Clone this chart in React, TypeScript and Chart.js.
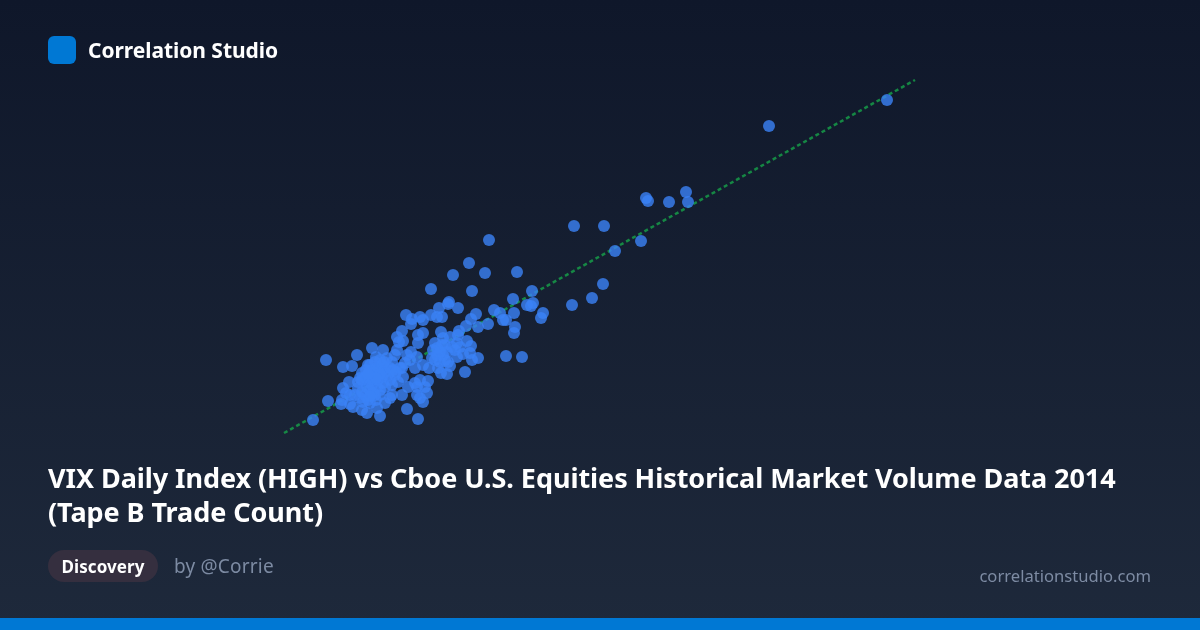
import React, { useEffect, useRef } from 'react';
import { Chart, registerables } from 'chart.js';

Chart.register(...registerables);

// VIX daily high (axes are hidden in the reference)
const vixHigh = [
    35.48, 30.76, 27.44, 27.52, 25.84, 25.92, 26.76, 22.96, 24.16, 25.64, 24.6, 20.68, 24.12, 23.68, 22.88, 21.28,
    20.52, 21.32, 21.08, 21.24, 21.72, 21.64, 20.56, 20.24, 20.12, 20.6, 20.56, 20.0, 19.56, 18.76, 18.12, 19.4,
    18.88, 17.24, 17.96, 17.92, 17.56, 18.32, 19.76, 19.04, 16.24, 16.8, 17.24, 16.92, 16.48, 17.68, 17.48, 16.44,
    18.84, 19.52, 19.12, 18.64, 16.08, 18.36, 17.64, 16.92, 16.72, 15.88, 18.0, 17.72, 18.32, 16.12, 15.96, 16.72,
    18.68, 18.28, 18.84, 17.4, 17.48, 14.88, 15.32, 14.28, 13.04, 15.04, 15.88, 15.8, 16.44, 16.68, 17.88, 18.8,
    18.52, 18.28, 19.12, 18.88, 20.24, 20.88, 13.72, 14.08, 17.4, 17.6, 18.0, 16.92, 16.6, 17.16, 17.64, 17.88,
    18.6, 14.72, 15.2, 15.48, 15.68, 16.0, 14.48, 14.8, 15.08, 15.4, 15.72, 16.12, 14.92, 15.28, 15.6, 15.92,
    13.96, 17.12, 16.8, 17.0, 16.6, 16.32, 16.68, 16.08, 13.72, 14.32, 14.68, 15.08, 15.4, 13.84, 14.2, 14.6,
    14.92, 15.68, 16.68, 17.08, 16.8, 16.92, 13.12, 13.68, 13.64, 14.0, 14.12, 14.48, 14.68, 14.8, 15.08, 15.2,
    15.4, 15.6, 16.28, 16.72, 12.52, 14.52, 14.4, 14.8, 14.6, 15.2, 15.32, 15.8, 16.2, 16.4, 16.28, 17.48,
    17.72, 17.8, 18.08, 17.68, 17.32, 18.4, 15.0, 15.12, 14.88, 14.72, 15.0, 14.48, 15.4, 15.52, 15.12, 14.8,
    15.2, 15.04, 14.72, 14.8, 15.0, 15.28, 15.6, 15.12, 15.36, 14.88, 14.64, 14.4, 14.32, 15.84, 16.08, 15.68,
    14.0, 14.48, 14.8, 14.96, 15.2, 15.04, 14.72, 17.8, 17.6, 17.28, 18.2, 17.92, 17.52,
];

// Tape B trade count (thousands), same order as vixHigh
const tapeBTrades = [
    1060, 1008, 876, 856, 864, 858, 856, 808, 808, 778, 758, 716, 692, 664, 650, 678,
    662, 654, 650, 648, 634, 624, 634, 620, 620, 606, 594, 634, 780, 734, 710, 714,
    678, 682, 656, 652, 644, 644, 640, 632, 630, 626, 630, 620, 622, 626, 626, 612,
    622, 612, 606, 608, 598, 598, 596, 594, 590, 586, 586, 584, 590, 578, 576, 574,
    578, 574, 568, 574, 564, 564, 560, 550, 540, 546, 560, 550, 556, 546, 556, 554,
    552, 546, 544, 540, 548, 546, 526, 528, 540, 536, 528, 530, 524, 524, 514, 512,
    516, 530, 540, 544, 536, 524, 514, 516, 524, 524, 520, 506, 500, 506, 500, 496,
    496, 498, 500, 486, 494, 486, 486, 470, 484, 484, 486, 486, 486, 474, 470, 470,
    474, 470, 470, 474, 464, 456, 458, 460, 452, 452, 446, 440, 434, 454, 444, 428,
    454, 464, 442, 422, 420, 456, 464, 506, 506, 480, 494, 510, 534, 540, 550, 550,
    550, 540, 566, 570, 560, 566, 510, 516, 490, 496, 470, 500, 516, 510, 500, 480,
    470, 460, 460, 530, 536, 530, 524, 520, 536, 520, 520, 504, 496, 516, 524, 490,
    470, 476, 468, 516, 512, 504, 512, 570, 556, 544, 560, 536, 524,
];

// Ends of the fitted trend line
const trendX = [11.36, 36.6];
const trendY = [394, 1100];

const FONT = '"Noto Sans", sans-serif';

export default function App() {
    const canvasRef = useRef<HTMLCanvasElement>(null);

    useEffect(() => {
        if (!canvasRef.current) return;
        const chart = new Chart(canvasRef.current, {
            type: 'scatter',
            data: {
                datasets: [
                    {
                        data: vixHigh.map((x, i) => ({ x, y: tapeBTrades[i] })),
                        backgroundColor: 'rgba(59, 130, 246, 0.8)',
                        borderWidth: 0,
                        pointRadius: 6,
                        order: 1,
                    },
                    {
                        type: 'line',
                        data: trendX.map((x, i) => ({ x, y: trendY[i] })),
                        borderColor: 'rgba(22, 163, 74, 0.8)',
                        borderWidth: 2.5,
                        borderDash: [4, 3],
                        pointRadius: 0,
                        order: 2,
                    },
                ],
            },
            options: {
                animation: false,
                responsive: false,
                layout: { autoPadding: false },
                plugins: { legend: { display: false }, tooltip: { enabled: false } },
                scales: {
                    x: { type: 'linear', display: false, min: 0, max: 48 },
                    y: { type: 'linear', display: false, min: 0, max: 1260 },
                },
            },
        });
        return () => chart.destroy();
    }, []);

    return (
        <div style={{ position: 'absolute', left: 0, top: 0, width: 1200, height: 630, overflow: 'hidden', fontFamily: FONT, background: 'linear-gradient(180deg, #0f172a 0%, #1e293b 100%)' }}>
            <canvas ref={canvasRef} width={1200} height={630} style={{ position: 'absolute', left: 0, top: 0, width: 1200, height: 630 }} />
            <div style={{ position: 'absolute', left: 48, top: 36, width: 28, height: 28, borderRadius: 6, background: '#0078d4' }} />
            <div style={{ position: 'absolute', left: 88, top: 36, lineHeight: '28px', fontSize: 21, letterSpacing: -0.05, fontWeight: 700, color: '#ffffff' }}>Correlation Studio</div>
            <div style={{ position: 'absolute', left: 48, top: 461, width: 1104, lineHeight: '34px', fontSize: 27, letterSpacing: -0.06, fontWeight: 700, color: '#ffffff' }}>
                VIX Daily Index (HIGH) vs Cboe U.S. Equities Historical Market Volume Data 2014 (Tape B Trade Count)
            </div>
            <div style={{ position: 'absolute', left: 48, top: 550, width: 110, height: 32, borderRadius: 16, background: '#352f3f', color: '#ffffff', fontSize: 17, letterSpacing: 0.1, fontWeight: 700, lineHeight: '33px', textAlign: 'center' }}>Discovery</div>
            <div style={{ position: 'absolute', left: 174, top: 550, lineHeight: '32px', fontSize: 19, letterSpacing: 0.2, color: '#7d8ba3' }}>by @Corrie</div>
            <div style={{ position: 'absolute', right: 49, top: 560, lineHeight: '32px', fontSize: 16.6, color: '#7d8ba3' }}>correlationstudio.com</div>
            <div style={{ position: 'absolute', left: 0, top: 618, width: 1200, height: 12, background: '#0078d4' }} />
        </div>
    );
}
